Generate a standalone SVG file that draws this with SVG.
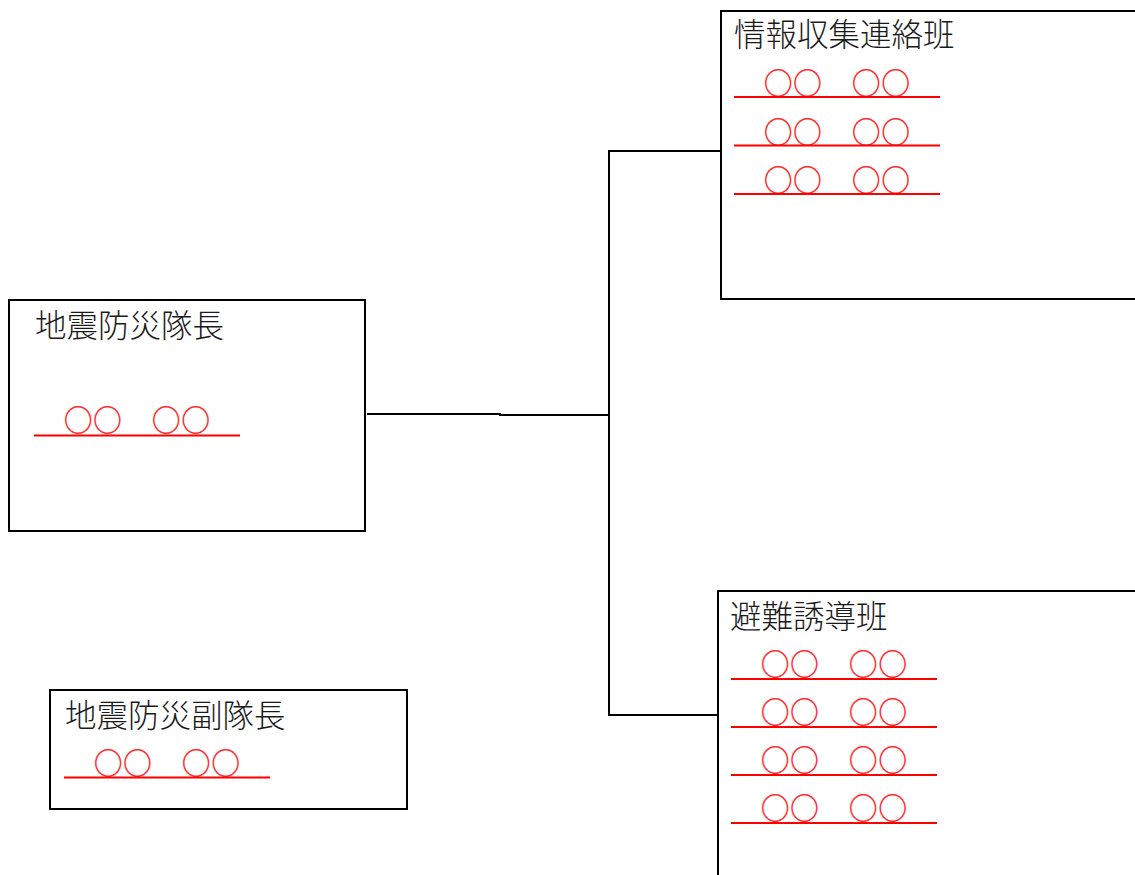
<svg xmlns="http://www.w3.org/2000/svg" width="1135" height="875" viewBox="0 0 1135 875">
<style>
.box{fill:#fff;stroke:#000;stroke-width:2}
.lbl{font-family:"Noto Sans CJK JP","Noto Sans CJK SC",sans-serif;font-size:31.5px;font-weight:300;fill:#1a1a1a}
.nm{font-family:"Noto Sans CJK JP","Noto Sans CJK SC",sans-serif;font-size:29.4px;font-weight:300;fill:#ff3030}
.ul{stroke:#ff0000;stroke-width:2.2}
.cn{stroke:#000;stroke-width:2;fill:none}
</style>
<rect width="1135" height="875" fill="#fff"/>
<g id="connectors">
<polyline class="cn" points="367,414 500,414 500,415 609,415"/>
<polyline class="cn" points="721,151 609,151 609,715 718,715"/>
</g>
<g id="node-taichou">
<rect class="box" x="9" y="300" width="356" height="231"/>
<text class="lbl" x="35" y="337">地震防災隊長</text>
<text class="nm" x="34" y="431">　〇〇　〇〇　</text>
<line class="ul" x1="34" y1="435.5" x2="240" y2="435.5"/>
</g>
<g id="node-fukutaichou">
<rect class="box" x="50" y="690" width="357" height="119"/>
<text class="lbl" x="65" y="727">地震防災副隊長</text>
<text class="nm" x="64" y="773.5">　〇〇　〇〇　</text>
<line class="ul" x1="64" y1="777.5" x2="270" y2="777.5"/>
</g>
<g id="node-jouhou">
<rect class="box" x="721" y="11" width="430" height="288"/>
<text class="lbl" x="734" y="46">情報収集連絡班</text>
<text class="nm" x="734" y="94">　〇〇　〇〇　</text>
<line class="ul" x1="734" y1="97" x2="940" y2="97"/>
<text class="nm" x="734" y="142.5">　〇〇　〇〇　</text>
<line class="ul" x1="734" y1="145.5" x2="940" y2="145.5"/>
<text class="nm" x="734" y="191">　〇〇　〇〇　</text>
<line class="ul" x1="734" y1="194" x2="940" y2="194"/>
</g>
<g id="node-hinan">
<rect class="box" x="718" y="591" width="430" height="300"/>
<text class="lbl" x="730" y="628">避難誘導班</text>
<text class="nm" x="731" y="674.5">　〇〇　〇〇　</text>
<line class="ul" x1="731" y1="679" x2="937" y2="679"/>
<text class="nm" x="731" y="722.5">　〇〇　〇〇　</text>
<line class="ul" x1="731" y1="727" x2="937" y2="727"/>
<text class="nm" x="731" y="770.5">　〇〇　〇〇　</text>
<line class="ul" x1="731" y1="775" x2="937" y2="775"/>
<text class="nm" x="731" y="818.5">　〇〇　〇〇　</text>
<line class="ul" x1="731" y1="823" x2="937" y2="823"/>
</g>
</svg>
